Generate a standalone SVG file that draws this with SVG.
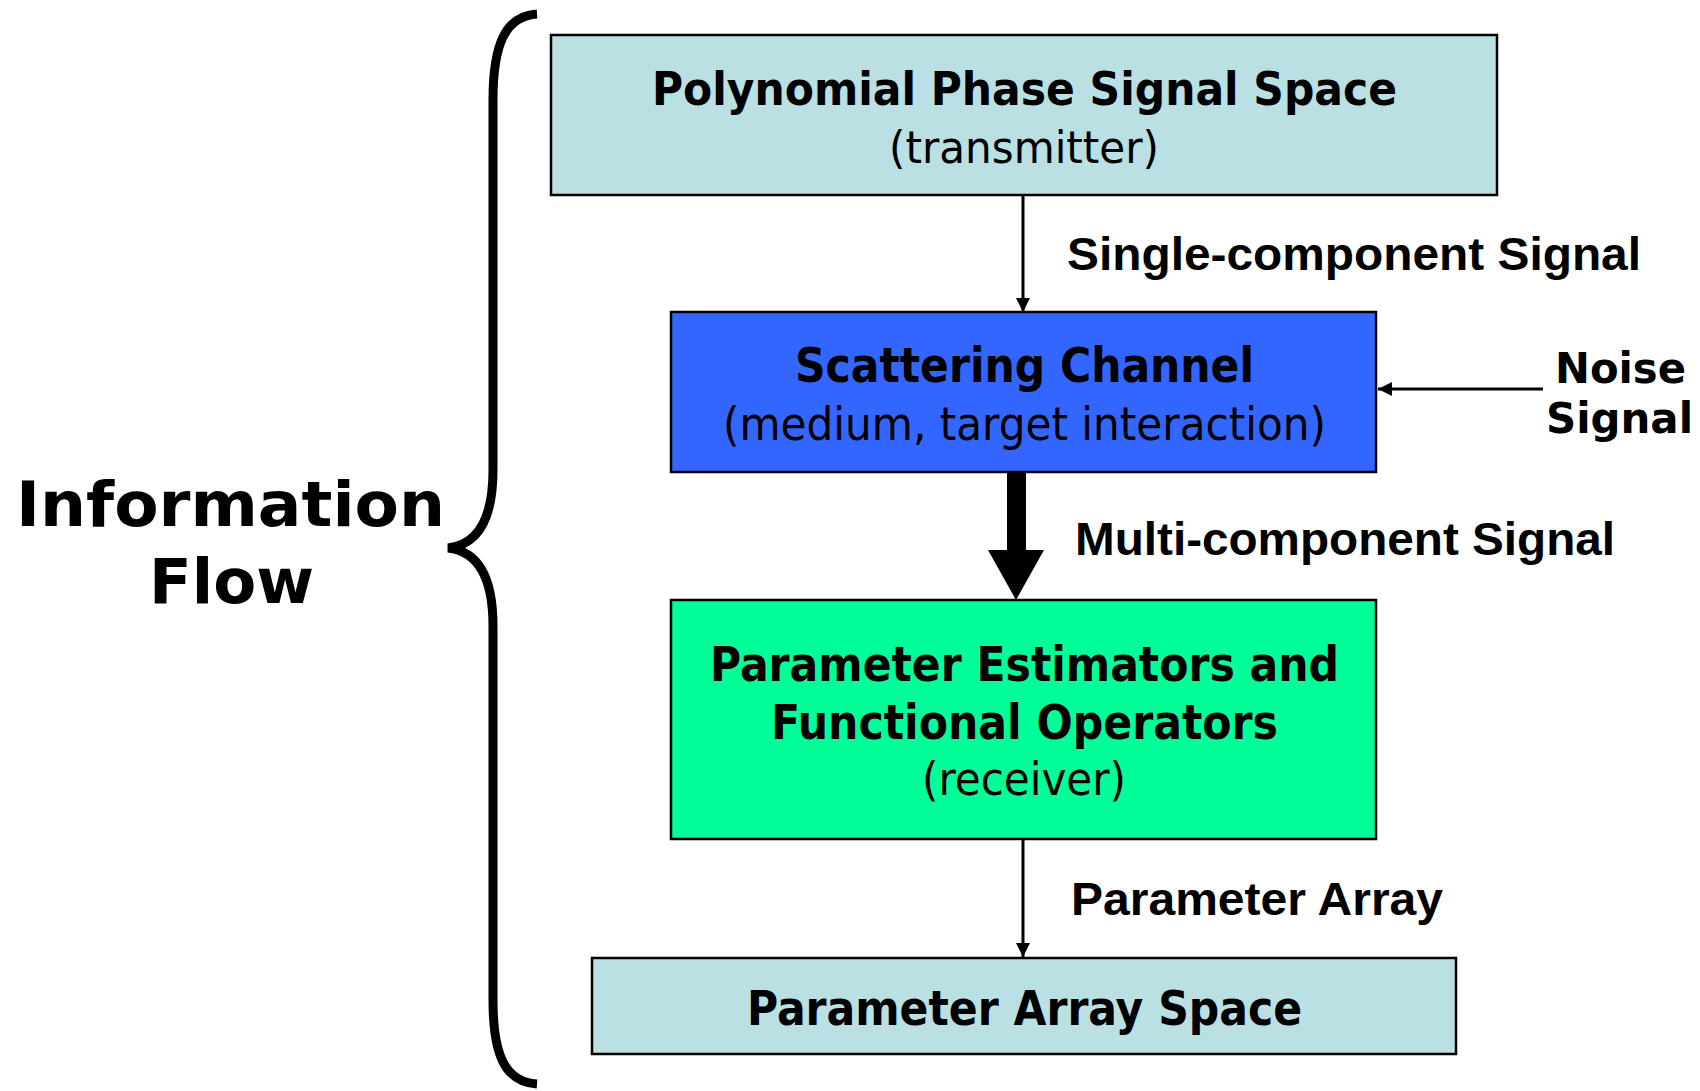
<svg xmlns="http://www.w3.org/2000/svg" width="1700" height="1091" viewBox="0 0 1700 1091">
  <defs>
    <style>
      .box { stroke: #000; stroke-width: 2.5; }
      .space { fill: #BAE0E3; }
      .channel { fill: #3366FF; }
      .receiver { fill: #00FF99; }
      .title { font-family: "DejaVu Sans Condensed", "DejaVu Sans", sans-serif; font-weight: bold; fill: #000; }
      .sub { font-family: "DejaVu Sans Condensed", "DejaVu Sans", sans-serif; font-weight: normal; fill: #000; }
      .label { font-family: "Liberation Sans", Arial, sans-serif; font-weight: bold; font-size: 46px; fill: #000; }
      .wide { font-family: "DejaVu Sans", Verdana, sans-serif; font-weight: bold; fill: #000; }
      .thin { stroke: #000; stroke-width: 3; fill: none; marker-end: url(#head); }
    </style>
    <marker id="head" markerUnits="userSpaceOnUse" markerWidth="15" markerHeight="15" refX="14" refY="7" orient="auto">
      <path d="M0,0 L14,7 L0,14 z" fill="#000"/>
    </marker>
  </defs>

  <rect width="1700" height="1091" fill="#fff"/>

  <!-- curly brace with its caption -->
  <g id="information-flow">
    <path d="M537,14 C505,16 493,45 493,100 L493,470 C493,522 476,545 448,548 C476,551 493,574 493,626 L493,1000 C493,1055 505,1082 537,1084" fill="none" stroke="#000" stroke-width="9"/>
    <text class="wide" x="16" y="526" font-size="63" textLength="429" lengthAdjust="spacingAndGlyphs">Information</text>
    <text class="wide" x="149" y="603" font-size="63" textLength="165" lengthAdjust="spacingAndGlyphs">Flow</text>
  </g>

  <!-- nodes -->
  <g id="transmitter">
    <rect class="box space" x="551" y="35" width="946" height="160"/>
    <text class="title" x="652" y="105" font-size="46" textLength="745" lengthAdjust="spacingAndGlyphs">Polynomial Phase Signal Space</text>
    <text class="sub" x="889" y="163" font-size="45" textLength="270" lengthAdjust="spacingAndGlyphs">(transmitter)</text>
  </g>

  <g id="scattering-channel">
    <rect class="box channel" x="671" y="312" width="705" height="160"/>
    <text class="title" x="795" y="382" font-size="48" textLength="459" lengthAdjust="spacingAndGlyphs">Scattering Channel</text>
    <text class="sub" x="723" y="440" font-size="46" textLength="603" lengthAdjust="spacingAndGlyphs">(medium, target interaction)</text>
  </g>

  <g id="receiver">
    <rect class="box receiver" x="671" y="600" width="705" height="239"/>
    <text class="title" x="710" y="681" font-size="48" textLength="629" lengthAdjust="spacingAndGlyphs">Parameter Estimators and</text>
    <text class="title" x="771" y="739" font-size="48" textLength="507" lengthAdjust="spacingAndGlyphs">Functional Operators</text>
    <text class="sub" x="922" y="795" font-size="46" textLength="204" lengthAdjust="spacingAndGlyphs">(receiver)</text>
  </g>

  <g id="parameter-array-space">
    <rect class="box space" x="592" y="958" width="864" height="96"/>
    <text class="title" x="747" y="1025" font-size="48" textLength="555" lengthAdjust="spacingAndGlyphs">Parameter Array Space</text>
  </g>

  <g id="noise-signal">
    <text class="wide" x="1555" y="383" font-size="42" textLength="131" lengthAdjust="spacingAndGlyphs">Noise</text>
    <text class="wide" x="1546" y="433" font-size="42" textLength="147" lengthAdjust="spacingAndGlyphs">Signal</text>
  </g>

  <!-- connectors -->
  <g id="connectors">
    <line class="thin" x1="1023" y1="196" x2="1023" y2="312"/>
    <line class="thin" x1="1543" y1="389" x2="1378" y2="389" stroke-width="2.5"/>
    <path d="M1007,473 L1026,473 L1026,550 L1044,550 L1016,600 L988,550 L1007,550 z" fill="#000"/>
    <line class="thin" x1="1023" y1="840" x2="1023" y2="957"/>
  </g>

  <!-- connector labels -->
  <g id="connector-labels">
    <text class="label" x="1067" y="270" textLength="574" lengthAdjust="spacingAndGlyphs">Single-component Signal</text>
    <text class="label" x="1075" y="555" textLength="540" lengthAdjust="spacingAndGlyphs">Multi-component Signal</text>
    <text class="label" x="1071" y="915" textLength="372" lengthAdjust="spacingAndGlyphs">Parameter Array</text>
  </g>
</svg>
